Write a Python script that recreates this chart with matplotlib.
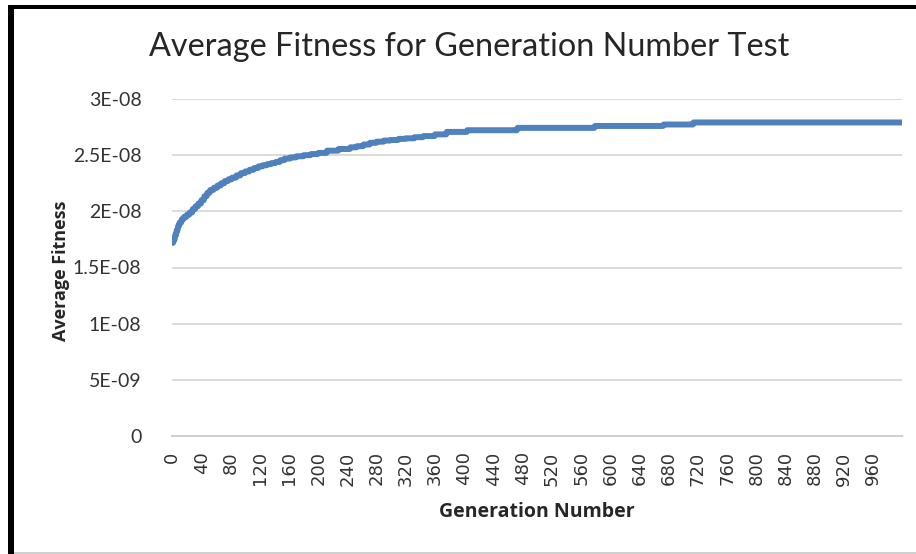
import numpy as np
import matplotlib
matplotlib.use("Agg")
import matplotlib.pyplot as plt
from matplotlib.patches import Rectangle

# fitness levels (x 1e-8), each held from the given generation on
step_gen = [0, 2, 4, 6, 8, 10, 13, 16, 20, 24, 28, 32, 36, 40, 44, 48, 52, 57,
            62, 67, 72, 77, 82, 88, 94, 100, 106, 112, 118, 124, 130, 136, 142,
            148, 154, 162, 170, 180, 190, 200, 212, 228, 244, 253, 262, 271,
            280, 290, 299, 310, 320, 332, 344, 360, 376, 404, 473, 579, 673, 714]
step_fit = [1.72, 1.75, 1.79, 1.83, 1.87, 1.90, 1.93, 1.95, 1.97, 1.99, 2.02,
            2.045, 2.07, 2.10, 2.135, 2.165, 2.19, 2.21, 2.23, 2.25, 2.27,
            2.285, 2.30, 2.32, 2.34, 2.355, 2.37, 2.385, 2.40, 2.41, 2.42,
            2.43, 2.44, 2.455, 2.47, 2.48, 2.49, 2.50, 2.51, 2.52, 2.54, 2.555,
            2.57, 2.58, 2.595, 2.61, 2.62, 2.63, 2.635, 2.645, 2.65, 2.66,
            2.67, 2.685, 2.707, 2.722, 2.743, 2.76, 2.773, 2.791]
n_gen = 1000

y_ticks = [0, 5e-9, 1e-8, 1.5e-8, 2e-8, 2.5e-8, 3e-8]
y_labels = ["0", "5E-09", "1E-08", "1.5E-08", "2E-08", "2.5E-08", "3E-08"]
x_ticks = list(range(0, 1000, 40))

runs = np.diff(step_gen + [n_gen])
fitness = np.repeat(step_fit, runs) * 1e-8
gens = np.arange(n_gen)

plt.rcParams['font.family'] = ['Lato', 'DejaVu Sans']

W, H = 916, 554
fig = plt.figure(figsize=(W / 100, H / 100), dpi=100)
ax = fig.add_axes([172 / W, 1 - 436 / H, (902 - 172) / W, (436 - 99) / H])

ax.plot(gens, fitness, color='#4F81BD', lw=4.3, solid_capstyle='round',
        solid_joinstyle='round', zorder=3)

ax.set_xlim(-0.5, n_gen - 0.5)
ax.set_ylim(0, 3e-8)
ax.set_yticks(y_ticks)
ax.set_yticklabels(y_labels)
ax.set_xticks(x_ticks)
ax.set_xticklabels([str(t) for t in x_ticks], rotation=90, family='DejaVu Sans')
ax.tick_params(axis='y', length=0, pad=22, labelsize=14, labelcolor='#333333')
ax.tick_params(axis='x', length=0, pad=11, labelsize=13, labelcolor='#333333')
ax.grid(axis='y', color='#D9D9D9', lw=1.3)
ax.set_axisbelow(True)
for s in ['top', 'right', 'left']:
    ax.spines[s].set_visible(False)
ax.spines['bottom'].set_color('#D0D0D0')
ax.spines['bottom'].set_linewidth(1.5)

ax.set_xlabel("Generation Number", fontsize=14, fontweight='bold', family='Open Sans',
              color='#262626', labelpad=12)
ax.set_ylabel("Average Fitness", fontsize=13, fontweight='bold', family='Open Sans',
              color='#262626')
ax.yaxis.set_label_coords((70 - 172) / (902 - 172), 0.49)

fig.text(469 / W, 1 - 47 / H, "Average Fitness for Generation Number Test",
         fontsize=23.3, color='#262626', ha='center', va='center')

# chart frame (cropped screenshot)
fig.add_artist(Rectangle((8 / W, 0), 6 / W, 1 - 5 / H, transform=fig.transFigure,
                         color='black', lw=0))
fig.add_artist(Rectangle((8 / W, 1 - 9 / H), 1 - 8 / W, 4 / H, transform=fig.transFigure,
                         color='black', lw=0))
fig.add_artist(Rectangle((14 / W, 0), 1, 2 / H, transform=fig.transFigure,
                         color='#D0D0D0', lw=0))

fig.savefig("out.png", dpi=100)
